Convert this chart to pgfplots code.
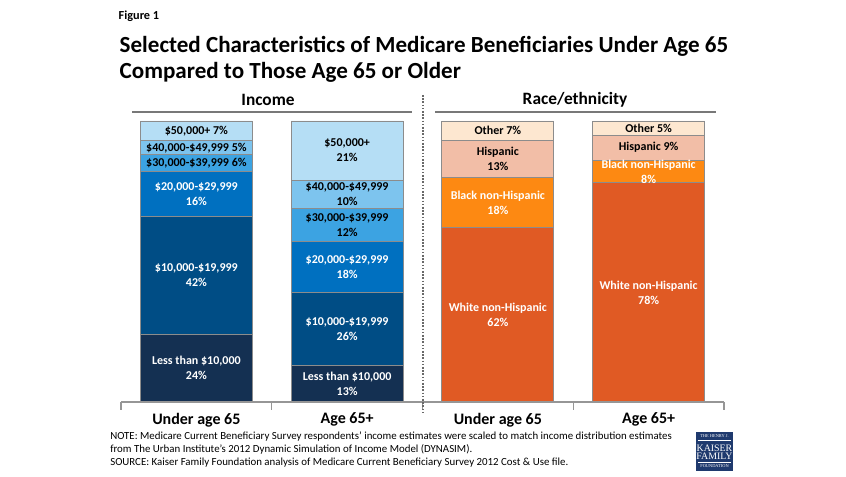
\documentclass[border=0pt]{standalone}
\usepackage{pgfplots}
\pgfplotsset{compat=1.18}
\usepackage{fontspec}
\setmainfont{Carlito}
\newfontfamily\logofont{Liberation Serif}

% income shades, dark to light
\definecolor{incA}{RGB}{20,48,82}
\definecolor{incB}{RGB}{0,77,133}
\definecolor{incC}{RGB}{0,112,192}
\definecolor{incD}{RGB}{60,163,226}
\definecolor{incE}{RGB}{125,196,238}
\definecolor{incF}{RGB}{181,222,245}
% race shades
\definecolor{raceA}{RGB}{224,90,36}
\definecolor{raceB}{RGB}{253,137,18}
\definecolor{raceC}{RGB}{242,190,167}
\definecolor{raceD}{RGB}{253,231,208}
\definecolor{segline}{RGB}{140,140,140}
\definecolor{axgray}{RGB}{150,150,150}
\definecolor{logoblue}{RGB}{31,58,110}

\pgfplotsset{
  kffbase/.style={
    scale only axis, width=452.25pt, height=210.75pt,
    xmin=-0.5, xmax=3.5, ymin=0, ymax=100, enlargelimits=false,
    at={(90.75pt,56.25pt)}, anchor=south west},
  seg/.style={fill=#1, draw=segline, line width=0.6pt},
  lbl/.style={draw=none, mark=none, nodes near coords, point meta=explicit symbolic,
    every node near coord/.append style={anchor=center, align=center, text=#1,
      inner sep=0pt, font=\bfseries\fontsize{9}{11.25}\selectfont}},
}

\begin{document}
\begin{tikzpicture}[x=0.75pt,y=0.75pt]
\useasboundingbox (0,0) rectangle (846,477);

% titles
\node[anchor=base west, font=\bfseries\fontsize{9.2}{10}\selectfont] at (114,457) {Figure 1};
\node[anchor=base west, font=\bfseries\fontsize{17.3}{20}\selectfont] at (115,424)
  {Selected Characteristics of Medicare Beneficiaries Under Age 65};
\node[anchor=base west, font=\bfseries\fontsize{17.3}{20}\selectfont] at (115,398)
  {Compared to Those Age 65 or Older};

% group headers
\node[font=\bfseries\fontsize{13}{15}\selectfont] at (268,377) {Income};
\node[font=\bfseries\fontsize{13}{15}\selectfont] at (575,377) {Race/ethnicity};
\draw[axgray!80!black, line width=0.9pt] (132,365) -- (412,365);
\draw[axgray!80!black, line width=0.9pt] (435,365) -- (716,365);

% income bars
\begin{axis}[kffbase, hide axis, ybar stacked, bar width=84pt]
\addplot[seg=incA] coordinates {(0,24) (1,13)};
\addplot[seg=incB] coordinates {(0,42) (1,26)};
\addplot[seg=incC] coordinates {(0,16) (1,18)};
\addplot[seg=incD] coordinates {(0,6) (1,12)};
\addplot[seg=incE] coordinates {(0,5) (1,10)};
\addplot[seg=incF] coordinates {(0,7) (1,21)};
\end{axis}

% race/ethnicity bars
\begin{axis}[kffbase, hide axis, ybar stacked, bar width=84pt]
\addplot[seg=raceA] coordinates {(2,62) (3,78)};
\addplot[seg=raceB] coordinates {(2,18) (3,8)};
\addplot[seg=raceC] coordinates {(2,13) (3,9)};
\addplot[seg=raceD] coordinates {(2,7) (3,5)};
\end{axis}

% axis line, category names and segment labels
\begin{axis}[kffbase, clip=false,
    axis x line*=bottom, axis y line=none, ytick=\empty,
    x axis line style={draw=axgray, line width=0.8pt},
    xtick={0,1,2,3},
    xticklabels={Under age 65, Age 65+, Under age 65, Age 65+},
    major tick length=0pt,
    xticklabel style={font=\bfseries\fontsize{12}{14}\selectfont, yshift=-4.75pt},
    extra x ticks={-0.5,0.5,1.5,2.5,3.5}, extra x tick labels={},
    extra x tick style={major tick length=6pt, tick align=outside,
      tick style={draw=axgray, line width=0.8pt}}]
\addplot[lbl=white] coordinates {
  (0,12) [{Less than \$10,000\\24\%}]
  (0,45) [{\$10,000-\$19,999\\42\%}]
  (0,74) [{\$20,000-\$29,999\\16\%}]
  (1,6.5) [{Less than \$10,000\\13\%}]
  (1,26) [{\$10,000-\$19,999\\26\%}]
  (1,48) [{\$20,000-\$29,999\\18\%}]
  (2,31) [{White non-Hispanic\\62\%}]
  (2,71) [{Black non-Hispanic\\18\%}]
  (3,39) [{White non-Hispanic\\78\%}]
  (3,82) [{Black non-Hispanic\\8\%}]
};
\addplot[lbl=black] coordinates {
  (0,85) [{\$30,000-\$39,999 6\%}]
  (0,90.5) [{\$40,000-\$49,999 5\%}]
  (0,96.5) [{\$50,000+ 7\%}]
  (1,63) [{\$30,000-\$39,999\\12\%}]
  (1,74) [{\$40,000-\$49,999\\10\%}]
  (1,89.5) [{\$50,000+\\21\%}]
  (2,86.5) [{Hispanic\\13\%}]
  (2,96.5) [{Other 7\%}]
  (3,90.5) [{Hispanic 9\%}]
  (3,97.5) [{Other 5\%}]
};
\end{axis}

% divider between the two groups
\draw[axgray!70!black, line width=0.9pt, dash pattern=on 1.2pt off 1.2pt] (423,382) -- (423,64);

% notes
\begin{scope}[every node/.style={anchor=base west, inner sep=0pt, font=\fontsize{8.15}{9}\selectfont}]
\node at (110,37) {NOTE: Medicare Current Beneficiary Survey respondents’ income estimates were scaled to match income distribution estimates};
\node at (110,24) {from The Urban Institute’s 2012 Dynamic Simulation of Income Model (DYNASIM).};
\node at (110,11) {SOURCE: Kaiser Family Foundation analysis of Medicare Current Beneficiary Survey 2012 Cost \& Use file.};
\end{scope}

% logo
\fill[logoblue] (696,6) rectangle (733,45);
\draw[white, line width=0.3pt] (698,36.5) -- (731,36.5);
\draw[white, line width=0.3pt] (698,14.5) -- (731,14.5);
\begin{scope}[every node/.style={text=white, inner sep=0pt, font=\logofont}]
\node[font=\logofont\fontsize{3.3}{3.5}\selectfont] at (714.5,40.5) {THE HENRY J.};
\node[font=\logofont\fontsize{7.4}{7.4}\selectfont] at (714.5,29) {KAISER};
\node[font=\logofont\fontsize{7.4}{7.4}\selectfont] at (714.5,20.5) {FAMILY};
\node[font=\logofont\fontsize{3.3}{3.5}\selectfont] at (714.5,10.5) {FOUNDATION};
\end{scope}
\end{tikzpicture}
\end{document}
